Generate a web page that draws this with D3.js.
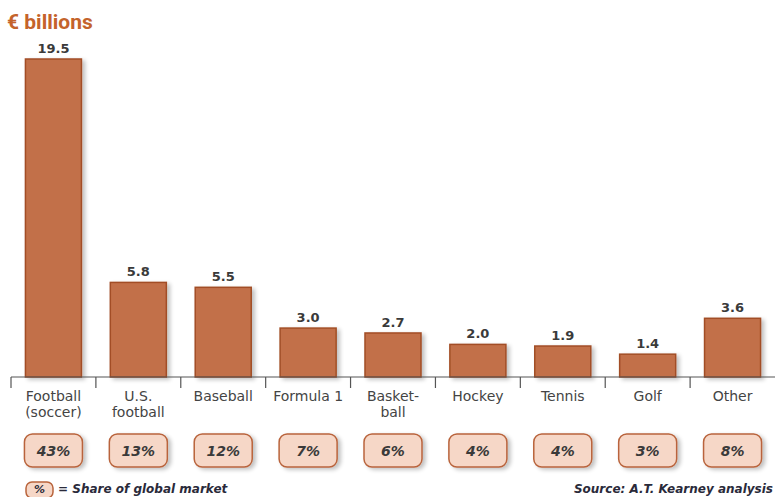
<!DOCTYPE html>
<html>
<head>
<meta charset="utf-8">
<script src="https://cdn.jsdelivr.net/npm/d3@7"></script>
<style>
  body { margin: 0; background: #fff; }
  svg { display: block; font-family: "DejaVu Sans", Arial, sans-serif; }
</style>
</head>
<body>
<svg id="chart" width="775" height="497"></svg>
<script>
// sport categories (two-line labels where the original wraps)
const categories = ['Football', 'U.S. football', 'Baseball', 'Formula 1', 'Basketball', 'Hockey', 'Tennis', 'Golf', 'Other'];
const labelLines = [['Football', '(soccer)'], ['U.S.', 'football'], ['Baseball'], ['Formula 1'], ['Basket-', 'ball'], ['Hockey'], ['Tennis'], ['Golf'], ['Other']];
const values = [19.5, 5.8, 5.5, 3.0, 2.7, 2.0, 1.9, 1.4, 3.6];
const shares = ['43%', '13%', '12%', '7%', '6%', '4%', '4%', '3%', '8%'];

const svg = d3.select('#chart');
const margin = {top: 59, right: 0, bottom: 120, left: 11};
const width = 775 - margin.left - margin.right;
const axisY = 377;

const defs = svg.append('defs');
const shadow = defs.append('filter').attr('id', 'shadow')
  .attr('x', '-20%').attr('y', '-20%').attr('width', '150%').attr('height', '150%');
shadow.append('feGaussianBlur').attr('in', 'SourceAlpha').attr('stdDeviation', 2);
shadow.append('feOffset').attr('dx', 3).attr('dy', 2).attr('result', 'off');
shadow.append('feComponentTransfer').append('feFuncA').attr('type', 'linear').attr('slope', 0.25);
const merge = shadow.append('feMerge');
merge.append('feMergeNode');
merge.append('feMergeNode').attr('in', 'SourceGraphic');

const x = d3.scaleBand()
  .domain(categories)
  .range([margin.left, margin.left + width])
  .paddingInner(0.34)
  .paddingOuter(0.17);

const y = d3.scaleLinear()
  .domain([0, 19.5])
  .range([axisY, margin.top]);

// title
svg.append('text')
  .attr('x', 7)
  .attr('y', 29)
  .attr('fill', '#c4632b')
  .attr('font-family', 'Roboto, Arial, sans-serif')
  .attr('font-weight', 'bold')
  .attr('font-size', 21)
  .text('€ billions');

// bars
svg.append('g')
  .selectAll('rect')
  .data(values)
  .enter().append('rect')
  .attr('x', (d, i) => x(categories[i]))
  .attr('y', (d) => y(d))
  .attr('width', x.bandwidth())
  .attr('height', (d) => axisY - y(d))
  .attr('fill', '#c27048')
  .attr('stroke', '#a24e26')
  .attr('stroke-width', 1.5)
  .attr('filter', 'url(#shadow)');

// value labels
svg.append('g')
  .selectAll('text')
  .data(values)
  .enter().append('text')
  .attr('x', (d, i) => x(categories[i]) + x.bandwidth() / 2)
  .attr('y', (d) => y(d) - 6)
  .attr('text-anchor', 'middle')
  .attr('font-size', 13)
  .attr('font-weight', 'bold')
  .attr('fill', '#3a3a3a')
  .text((d) => d.toFixed(1));

// axis line and ticks
const step = x.step();
const tickXs = d3.range(categories.length).map((i) => margin.left + i * step);
svg.append('line')
  .attr('x1', margin.left).attr('x2', 775)
  .attr('y1', axisY).attr('y2', axisY)
  .attr('stroke', '#555').attr('stroke-width', 1.2);
svg.append('g')
  .selectAll('line')
  .data(tickXs)
  .enter().append('line')
  .attr('x1', (d) => d).attr('x2', (d) => d)
  .attr('y1', axisY).attr('y2', axisY + 11)
  .attr('stroke', '#555').attr('stroke-width', 1.2);

// category labels
const catLabels = svg.append('g')
  .selectAll('text')
  .data(labelLines)
  .enter().append('text')
  .attr('x', (d, i) => x(categories[i]) + x.bandwidth() / 2)
  .attr('y', 401)
  .attr('text-anchor', 'middle')
  .attr('font-size', 14)
  .attr('fill', '#444');
catLabels.selectAll('tspan')
  .data((d) => d)
  .enter().append('tspan')
  .attr('x', function() { return this.parentNode.getAttribute('x'); })
  .attr('dy', (d, i) => i === 0 ? 0 : 16)
  .text((d) => d);

// share pills
const pills = svg.append('g')
  .selectAll('g')
  .data(shares)
  .enter().append('g')
  .attr('transform', (d, i) => 'translate(' + (x(categories[i]) + x.bandwidth() / 2) + ',450)');
pills.append('rect')
  .attr('x', -29).attr('y', -16)
  .attr('width', 58).attr('height', 33)
  .attr('rx', 8)
  .attr('fill', '#f6d7c7')
  .attr('stroke', '#b9643c')
  .attr('stroke-width', 1.5)
  .attr('filter', 'url(#shadow)');
pills.append('text')
  .attr('y', 5.5)
  .attr('text-anchor', 'middle')
  .attr('font-size', 14)
  .attr('font-style', 'italic')
  .attr('font-weight', 'bold')
  .attr('fill', '#3a3a3a')
  .text((d) => d);

// legend
const legend = svg.append('g').attr('transform', 'translate(26,489)');
legend.append('rect')
  .attr('x', 0).attr('y', -7)
  .attr('width', 27).attr('height', 16)
  .attr('rx', 6)
  .attr('fill', '#f6d7c7')
  .attr('stroke', '#b9643c')
  .attr('stroke-width', 1.5);
legend.append('text')
  .attr('x', 13.5).attr('y', 4)
  .attr('text-anchor', 'middle')
  .attr('font-size', 11)
  .attr('font-style', 'italic')
  .attr('font-weight', 'bold')
  .attr('fill', '#2a2a3a')
  .text('%');
legend.append('text')
  .attr('x', 32).attr('y', 4)
  .attr('font-size', 12)
  .attr('font-style', 'italic')
  .attr('font-weight', 'bold')
  .attr('fill', '#2a2a3a')
  .text('= Share of global market');

// source
svg.append('text')
  .attr('x', 773).attr('y', 493)
  .attr('text-anchor', 'end')
  .attr('font-size', 12)
  .attr('font-style', 'italic')
  .attr('font-weight', 'bold')
  .attr('fill', '#2a2a3a')
  .text('Source: A.T. Kearney analysis');
</script>
</body>
</html>
